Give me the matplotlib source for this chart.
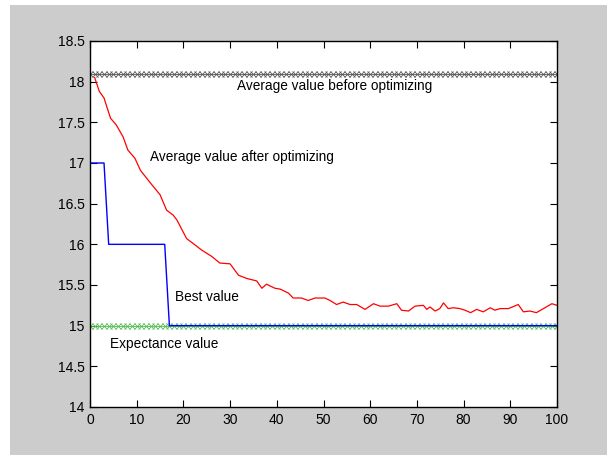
import numpy as np
import matplotlib.pyplot as plt
from matplotlib.patches import Rectangle

plt.rcParams['font.family'] = ['Liberation Sans', 'DejaVu Sans']

# iterations
iters = np.arange(0, 101)
red_x = [1, 2, 3, 3.5, 4.4, 5.6, 7.1, 8.1, 9.6, 10.8, 13, 15, 16.4, 17.8, 18.6, 20.7, 22.1,
         23.9, 26.1, 27.8, 30, 31.8, 33.6, 35.7, 36.8, 37.8, 39.6, 40.7, 42.5, 43.5, 45.3,
         46.7, 48.2, 50.3, 51.4, 52.8, 54.2, 55.7, 57.1, 58.9, 60.7, 62.1, 63.9, 65.7, 66.7,
         68.2, 69.6, 71.4, 72.1, 72.8, 73.9, 74.9, 75.7, 76.7, 77.8, 79.2, 80.3, 81.5, 82.8,
         84.2, 85.7, 86.7, 87.8, 89.6, 91.7, 92.8, 94.2, 95.6, 97.1, 98.9, 100]
red_y = [18.05, 17.88, 17.80, 17.71, 17.55, 17.47, 17.32, 17.16, 17.06, 16.91, 16.75, 16.61,
         16.42, 16.36, 16.30, 16.07, 16.01, 15.93, 15.85, 15.77, 15.76, 15.62, 15.58, 15.55,
         15.46, 15.51, 15.46, 15.45, 15.40, 15.34, 15.34, 15.31, 15.34, 15.34, 15.31, 15.26,
         15.29, 15.26, 15.26, 15.20, 15.27, 15.24, 15.24, 15.27, 15.19, 15.18, 15.24, 15.25,
         15.20, 15.23, 15.18, 15.21, 15.28, 15.21, 15.22, 15.21, 15.19, 15.16, 15.20, 15.17,
         15.22, 15.19, 15.21, 15.21, 15.26, 15.17, 15.18, 15.16, 15.21, 15.27, 15.25]
best_x = [0, 3, 4, 16, 17, 100]
best_y = [17, 17, 16, 16, 15, 15]
before_value = 18.1
expect_value = 15.0

fig = plt.figure(figsize=(6.13, 4.55), dpi=100, facecolor='white')
fig.patches.append(Rectangle((10 / 613, 0), 597 / 613, 450 / 455, transform=fig.transFigure,
                             facecolor='#cccccc', edgecolor='none', zorder=-5))
ax = fig.add_axes([90 / 613, 48 / 455, 467 / 613, 366 / 455])
ax.set_zorder(1)
ax.set_facecolor('white')

ax.plot(iters, np.full(len(iters), before_value), '-x', color='#555555', lw=0.6,
        markersize=4, markeredgewidth=0.6)
ax.plot(iters, np.full(len(iters), expect_value), '-x', color='#55bb55', lw=0.6,
        markersize=4, markeredgewidth=0.6)
ax.plot(best_x, best_y, color='#0000ff', lw=1.0)
ax.plot(red_x, red_y, color='#ff0000', lw=0.9)

ax.text(31.5, 17.95, 'Average value before optimizing', fontsize=9.8, va='center')
ax.text(12.8, 17.07, 'Average value after optimizing', fontsize=9.8, va='center')
ax.text(18.2, 15.35, 'Best value', fontsize=9.8, va='center')
ax.text(4.3, 14.77, 'Expectance value', fontsize=9.8, va='center')

ax.set_xlim(0, 100)
ax.set_ylim(14, 18.5)
ax.set_xticks(np.arange(0, 101, 10))
ax.set_yticks(np.arange(14, 18.51, 0.5))
ax.set_yticklabels(['14', '14.5', '15', '15.5', '16', '16.5', '17', '17.5', '18', '18.5'])
ax.tick_params(direction='in', length=5, top=True, right=True, pad=4, labelsize=10)
for s in ax.spines.values():
    s.set_linewidth(1.0)

fig.savefig('out.png', dpi=100, facecolor='white')
